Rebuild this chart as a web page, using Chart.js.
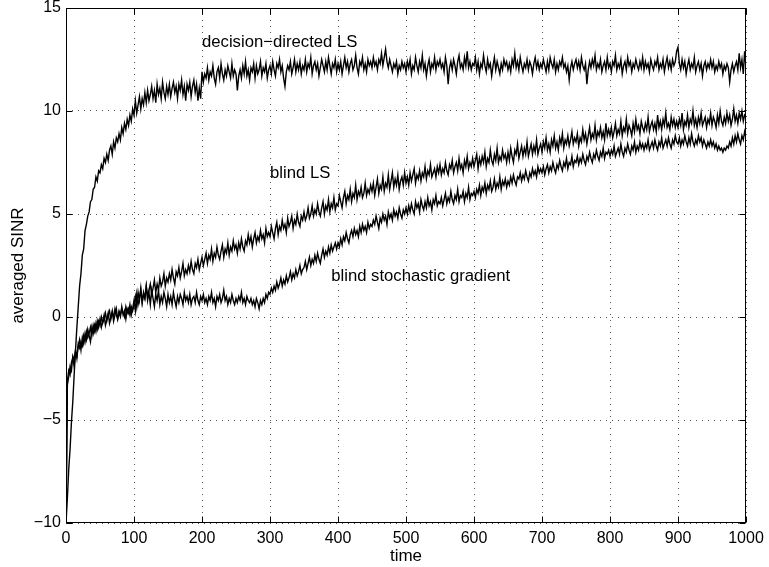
<!DOCTYPE html>
<html>
<head>
<meta charset="utf-8">
<script src="https://cdn.jsdelivr.net/npm/chart.js@4"></script>
<style>
  body { margin: 0; background: #fff; }
  canvas { display: block; }
</style>
</head>
<body>
<canvas id="canvas" width="769" height="567"></canvas>
<script>
// one sample every 2 time units, 0..1000 (rows of 25 = 50 time units)
const step = 2;

const ddLS = [
  -10, -8.8, -7.4, -6.4, -5.1, -4.1, -2.8, -1.6, -0.5, 0.5, 1.5, 2.1, 3.0, 3.3, 4.2, 4.5, 4.9, 5.1, 5.6, 5.7, 6.2, 6.3, 6.8, 6.6, 7.1,
  7.0, 7.4, 7.2, 7.7, 7.5, 7.9, 7.6, 8.1, 8.3, 7.9, 8.5, 8.2, 8.7, 8.5, 8.9, 8.6, 9.2, 8.9, 9.4, 9.1, 9.6, 9.3, 9.8, 9.5, 10.1,
  9.8, 10.5, 9.9, 10.3, 10.7, 10.1, 10.6, 10.3, 10.9, 10.4, 11.0, 10.5, 10.8, 11.2, 10.6, 11.0, 10.4, 11.3, 10.8, 11.1, 10.6, 11.4, 10.9, 10.6, 11.2,
  10.8, 11.3, 10.7, 11.1, 11.4, 10.9, 11.2, 10.6, 11.3, 11.0, 11.5, 10.8, 11.2, 10.5, 11.3, 11.0, 11.4, 10.7, 11.2, 11.5, 10.9, 11.3, 10.5, 11.1, 10.6,
  11.9, 11.4, 11.8, 11.6, 12.1, 11.5, 11.9, 11.7, 12.2, 11.6, 11.3, 11.9, 12.1, 11.6, 12.3, 11.8, 11.5, 12.0, 11.7, 12.2, 11.9, 11.6, 12.3, 11.7, 12.0,
  11.8, 11.0, 11.7, 12.0, 11.6, 12.2, 11.8, 12.4, 11.7, 12.0, 11.5, 12.1, 11.9, 12.3, 11.6, 12.2, 11.8, 12.0, 12.4, 11.7, 12.1, 11.9, 12.3, 11.6, 12.0,
  12.2, 11.8, 12.4, 12.0, 11.7, 12.3, 12.1, 12.5, 11.9, 12.2, 11.6, 11.2, 11.9, 12.2, 12.0, 12.4, 11.8, 12.1, 12.5, 11.9, 12.3, 12.0, 12.4, 11.8, 12.2,
  12.0, 12.5, 11.9, 12.3, 12.1, 12.6, 11.8, 12.2, 12.4, 12.0, 12.3, 11.7, 12.1, 12.5, 12.2, 11.9, 12.4, 12.0, 12.6, 12.2, 11.8, 12.3, 12.1, 12.5, 11.9,
  12.3, 12.0, 12.4, 11.8, 12.2, 12.6, 12.1, 12.4, 11.9, 12.3, 12.5, 12.0, 12.2, 12.7, 12.1, 11.8, 12.4, 12.2, 12.6, 12.0, 12.3, 11.9, 12.5, 12.2, 12.4,
  12.1, 12.6, 12.2, 12.4, 12.0, 12.5, 12.3, 12.8, 12.2, 12.6, 13.0, 12.4, 12.1, 12.5, 12.2, 11.9, 12.3, 12.1, 12.4, 11.8, 12.2, 12.0, 12.4, 12.1, 12.3,
  11.9, 12.4, 12.1, 12.5, 11.8, 12.2, 12.0, 12.6, 12.2, 11.9, 12.4, 12.1, 12.7, 12.0, 12.3, 11.7, 12.2, 12.5, 11.9, 12.3, 12.1, 12.6, 12.0, 12.4, 12.2,
  12.5, 12.1, 12.3, 11.9, 12.6, 12.2, 11.3, 12.1, 12.4, 12.0, 12.5, 12.2, 11.8, 12.4, 12.7, 12.1, 12.3, 12.0, 12.6, 12.2, 12.9, 12.1, 12.4, 12.0, 12.3,
  12.2, 12.6, 12.0, 12.4, 11.8, 12.3, 12.1, 12.7, 12.2, 11.9, 12.5, 12.1, 12.3, 11.7, 12.2, 12.6, 12.0, 12.4, 12.1, 11.8, 12.3, 12.0, 12.5, 12.2, 12.4,
  12.0, 12.3, 11.9, 12.5, 12.2, 12.8, 12.1, 12.4, 12.0, 12.6, 12.2, 11.9, 12.3, 12.1, 12.5, 12.0, 12.4, 12.2, 11.8, 12.3, 12.6, 12.1, 12.4, 12.0, 12.3,
  12.1, 12.5, 12.2, 11.9, 12.4, 12.0, 12.6, 12.3, 12.1, 12.5, 11.9, 12.3, 12.0, 12.4, 12.2, 12.6, 12.1, 12.3, 11.9, 12.2, 11.5, 12.1, 12.4, 12.0, 12.3,
  12.5, 12.1, 12.4, 12.0, 12.6, 12.2, 12.0, 12.3, 11.3, 12.0, 12.4, 12.1, 12.5, 12.2, 12.7, 12.0, 12.3, 12.1, 12.5, 11.9, 12.2, 12.4, 12.0, 12.6, 12.1,
  12.3, 11.9, 12.4, 12.2, 12.7, 12.0, 12.3, 12.1, 12.5, 11.8, 12.2, 12.4, 12.0, 12.6, 12.2, 12.4, 11.9, 12.3, 12.1, 12.5, 12.2, 12.0, 12.4, 12.1, 12.6,
  12.0, 12.4, 12.1, 12.3, 11.9, 12.5, 12.2, 12.0, 12.4, 12.2, 12.6, 12.0, 12.3, 12.1, 12.5, 11.9, 12.3, 12.6, 12.1, 12.4, 12.0, 12.5, 12.2, 12.4, 12.9,
  13.1, 12.3, 12.0, 12.5, 12.1, 12.4, 11.8, 12.2, 12.5, 12.0, 12.3, 12.1, 12.6, 11.9, 12.2, 12.4, 12.0, 12.3, 11.7, 12.2, 12.4, 12.0, 12.3, 12.1, 12.5,
  12.1, 12.4, 11.9, 12.2, 12.0, 12.4, 12.1, 12.3, 11.8, 12.2, 12.0, 12.3, 12.1, 11.4, 12.0, 12.3, 11.9, 12.2, 12.4, 12.0, 12.8, 12.1, 12.5, 11.8, 12.9,
  12.1
];

const blindLS = [
  -10, -3.1, -2.6, -2.8, -2.2, -2.0, -2.4, -1.7, -1.9, -1.4, -1.1, -1.6, -1.0, -1.3, -0.8, -1.1, -0.6, -0.9, -1.2, -0.5, -0.8, -0.4, -0.7, -0.2, -0.5,
  -0.1, -0.5, -0.2, 0.1, -0.4, -0.1, 0.2, -0.3, 0.0, 0.3, -0.2, 0.1, 0.4, -0.1, 0.2, 0.0, 0.5, 0.1, 0.3, -0.1, 0.4, 0.2, 0.6, 0.1, 0.4,
  0.8, 0.3, 1.1, 0.6, 0.9, 1.3, 0.7, 1.2, 0.9, 1.5, 1.0, 1.3, 1.6, 1.1, 1.4, 1.8, 1.2, 1.6, 1.3, 1.9, 1.5, 1.7, 2.1, 1.5, 1.9,
  1.7, 2.1, 1.8, 2.3, 1.9, 1.6, 2.2, 2.0, 2.4, 1.9, 2.2, 2.6, 2.0, 2.3, 2.1, 2.5, 2.2, 2.7, 2.3, 2.1, 2.6, 2.4, 2.8, 2.3, 2.6,
  2.9, 2.5, 2.8, 3.1, 2.6, 3.0, 2.8, 3.3, 2.7, 3.1, 2.9, 3.4, 3.0, 2.8, 3.2, 3.5, 2.9, 3.3, 3.1, 3.6, 3.0, 3.4, 3.2, 3.7, 3.3,
  3.5, 3.1, 3.6, 3.3, 3.8, 3.4, 3.2, 3.7, 3.5, 4.0, 3.6, 3.9, 3.4, 3.8, 4.1, 3.6, 3.9, 3.7, 4.2, 3.8, 4.0, 3.6, 4.3, 3.9, 4.1,
  3.9, 4.4, 4.1, 3.8, 4.3, 4.6, 4.0, 4.4, 4.2, 4.7, 4.3, 4.5, 4.1, 4.8, 4.4, 4.6, 4.9, 4.3, 4.7, 4.5, 5.0, 4.6, 4.4, 4.9, 4.7,
  5.1, 4.7, 4.9, 5.3, 4.8, 5.0, 5.4, 4.9, 5.2, 5.0, 5.5, 5.1, 4.9, 5.3, 5.6, 5.0, 5.4, 5.2, 5.7, 5.1, 5.5, 5.3, 5.8, 5.2, 5.5,
  5.4, 5.9, 5.6, 5.3, 5.8, 6.1, 5.5, 5.9, 5.7, 6.2, 5.6, 6.0, 5.8, 6.4, 5.7, 6.1, 5.9, 6.3, 5.8, 6.0, 6.5, 5.9, 6.2, 6.0, 6.4,
  6.1, 6.5, 5.9, 6.3, 6.7, 6.0, 6.4, 6.2, 6.8, 6.1, 6.5, 6.3, 6.9, 6.2, 6.6, 7.0, 6.3, 6.7, 6.4, 6.9, 6.2, 6.6, 6.8, 6.4, 7.0,
  6.5, 6.8, 6.4, 7.0, 6.6, 6.9, 7.2, 6.5, 6.9, 6.7, 7.1, 6.6, 7.0, 6.8, 7.3, 6.7, 7.1, 6.9, 7.4, 6.8, 7.0, 7.2, 6.8, 7.3, 7.0,
  7.4, 6.9, 7.2, 7.0, 7.5, 7.1, 6.9, 7.4, 7.2, 7.6, 7.0, 7.3, 7.5, 7.1, 7.7, 7.2, 7.4, 7.0, 7.6, 7.3, 7.8, 7.2, 7.5, 7.3, 7.7,
  7.3, 7.6, 7.9, 7.2, 7.7, 7.4, 7.8, 7.5, 8.0, 7.3, 7.7, 7.5, 8.1, 7.6, 7.4, 7.9, 7.6, 8.2, 7.5, 7.8, 7.6, 8.1, 7.7, 7.9, 7.5,
  8.0, 7.6, 8.2, 7.8, 7.5, 8.1, 7.9, 8.4, 7.7, 8.0, 8.3, 7.8, 8.2, 7.9, 8.5, 7.8, 8.1, 8.4, 7.9, 8.3, 8.0, 8.6, 7.9, 8.2, 8.4,
  8.0, 8.5, 8.2, 8.7, 8.1, 8.4, 8.0, 8.6, 8.3, 8.8, 8.2, 8.5, 8.1, 8.7, 8.4, 8.9, 8.2, 8.6, 8.4, 8.8, 8.3, 8.6, 9.0, 8.4, 8.7,
  8.5, 8.9, 8.3, 8.7, 8.5, 9.1, 8.6, 8.9, 8.4, 8.8, 9.2, 8.6, 8.9, 8.7, 9.3, 8.6, 9.0, 8.8, 9.2, 8.7, 9.0, 8.6, 9.4, 8.8, 9.1,
  8.8, 9.2, 8.7, 9.0, 9.4, 8.8, 9.1, 8.9, 9.5, 8.8, 9.2, 9.0, 9.6, 8.9, 9.3, 9.1, 8.8, 9.4, 9.0, 9.6, 9.1, 9.3, 8.9, 9.5, 9.2,
  9.0, 9.4, 9.1, 9.7, 9.0, 9.3, 9.5, 9.1, 9.4, 9.0, 9.8, 9.2, 9.5, 9.1, 9.6, 9.3, 9.9, 9.2, 9.4, 9.1, 9.7, 9.3, 9.6, 9.2, 9.5,
  9.2, 9.6, 9.3, 9.9, 9.1, 9.5, 9.3, 9.8, 9.2, 9.6, 9.4, 10.0, 9.3, 9.6, 9.2, 9.7, 9.4, 9.9, 9.3, 9.5, 9.7, 9.2, 9.6, 9.4, 9.9,
  9.3, 9.7, 9.5, 9.2, 9.8, 9.4, 10.0, 9.5, 9.3, 9.7, 9.4, 9.9, 9.5, 9.8, 9.3, 9.6, 10.1, 9.5, 9.8, 9.4, 9.9, 9.6, 10.0, 9.5, 9.8,
  9.7
];

const blindSG = [
  -10, -3.3, -2.9, -2.4, -2.6, -1.9, -2.1, -1.6, -2.0, -1.3, -1.5, -1.2, -1.4, -0.9, -1.2, -0.7, -1.0, -0.8, -0.5, -0.9, -0.4, -0.7, -0.3, -0.6, -0.2,
  -0.4, 0.0, -0.3, -0.1, 0.2, -0.2, 0.1, 0.3, -0.1, 0.2, 0.0, 0.4, 0.1, -0.1, 0.3, 0.1, 0.4, 0.2, 0.0, 0.5, 0.2, 0.4, 0.1, 0.5, 0.3,
  0.6, 1.0, 0.5, 1.2, 0.8, 1.4, 0.7, 1.1, 0.9, 1.5, 0.8, 1.2, 0.6, 1.3, 0.9, 0.5, 1.1, 0.8, 1.3, 0.6, 1.0, 0.7, 1.2, 0.9, 0.5,
  1.1, 0.7, 1.0, 0.6, 1.2, 0.8, 0.5, 1.0, 0.7, 1.1, 0.9, 0.6, 1.2, 0.8, 1.0, 0.7, 1.1, 0.6, 0.9, 1.0, 0.7, 1.2, 0.8, 0.6, 1.0,
  0.8, 1.1, 0.7, 0.9, 0.6, 1.0, 0.8, 1.2, 0.7, 0.9, 0.5, 1.0, 0.8, 1.1, 0.7, 0.9, 1.3, 0.8, 1.0, 0.6, 0.9, 0.7, 1.1, 0.8, 0.6,
  0.9, 0.7, 1.0, 0.8, 1.2, 0.7, 0.9, 0.6, 1.0, 0.8, 0.7, 0.9, 0.6, 0.8, 0.5, 0.9, 0.7, 0.4, 0.8, 0.6, 0.9, 0.7, 1.1, 0.9, 1.2,
  1.1, 1.4, 1.2, 1.5, 1.3, 1.7, 1.4, 1.6, 1.9, 1.5, 1.8, 1.6, 2.0, 1.7, 1.9, 2.2, 1.8, 2.1, 1.9, 2.3, 2.0, 2.2, 2.5, 2.1, 2.3,
  2.4, 2.7, 2.3, 2.6, 2.9, 2.5, 2.8, 2.6, 3.0, 2.7, 3.1, 2.8, 2.6, 3.0, 3.3, 2.9, 3.2, 3.0, 3.4, 3.1, 3.5, 3.2, 3.4, 3.6, 3.3,
  3.6, 3.4, 3.8, 3.5, 3.9, 3.7, 4.1, 3.8, 3.6, 4.0, 4.2, 3.9, 4.3, 4.0, 4.2, 3.9, 4.4, 4.1, 4.5, 4.2, 4.4, 4.1, 4.6, 4.3, 4.5,
  4.4, 4.7, 4.5, 4.9, 4.6, 4.3, 4.8, 4.6, 5.0, 4.7, 4.9, 4.5, 5.1, 4.8, 5.0, 4.7, 5.2, 4.9, 5.1, 4.8, 5.3, 5.0, 4.8, 5.2, 5.0,
  5.3, 5.0, 5.4, 5.1, 5.5, 5.2, 5.0, 5.6, 5.3, 5.5, 5.1, 5.7, 5.4, 5.2, 5.6, 5.3, 5.8, 5.4, 5.6, 5.2, 5.7, 5.5, 5.9, 5.4, 5.6,
  5.5, 5.8, 5.4, 5.7, 6.0, 5.5, 5.8, 5.6, 6.1, 5.7, 5.5, 5.9, 5.7, 6.2, 5.6, 5.9, 5.8, 6.1, 5.6, 6.0, 5.8, 6.3, 5.7, 6.0, 5.9,
  6.1, 5.8, 6.2, 6.0, 6.4, 5.9, 6.3, 6.1, 6.5, 6.0, 6.4, 6.2, 6.6, 6.1, 6.3, 6.7, 6.2, 6.5, 6.3, 6.8, 6.2, 6.6, 6.4, 6.7, 6.3,
  6.6, 6.4, 6.8, 6.5, 6.9, 6.6, 6.4, 6.8, 6.7, 7.0, 6.6, 6.9, 6.7, 7.1, 6.8, 6.6, 7.0, 6.8, 7.2, 6.9, 7.1, 6.8, 7.3, 7.0, 7.2,
  7.0, 7.3, 6.9, 7.2, 7.4, 7.0, 7.3, 7.1, 7.5, 7.2, 7.0, 7.4, 7.2, 7.6, 7.3, 7.1, 7.5, 7.3, 7.7, 7.2, 7.5, 7.4, 7.8, 7.3, 7.6,
  7.5, 7.8, 7.4, 7.7, 7.5, 7.9, 7.6, 7.4, 7.8, 7.6, 8.0, 7.7, 7.5, 7.9, 7.7, 8.1, 7.8, 7.6, 8.0, 7.8, 8.2, 7.7, 8.0, 7.9, 8.1,
  7.8, 8.1, 7.9, 8.3, 7.8, 8.0, 8.2, 7.9, 8.4, 8.0, 7.8, 8.2, 8.0, 8.4, 8.1, 7.9, 8.3, 8.1, 8.5, 8.0, 8.3, 8.1, 8.5, 8.2, 8.4,
  8.1, 8.4, 8.2, 8.6, 8.1, 8.3, 8.5, 8.2, 8.6, 8.3, 8.1, 8.5, 8.3, 8.7, 8.2, 8.4, 8.6, 8.3, 8.7, 8.4, 8.2, 8.6, 8.4, 8.8, 8.5,
  8.4, 8.7, 8.3, 8.6, 8.4, 8.8, 8.5, 8.3, 8.7, 8.4, 8.9, 8.5, 8.3, 8.6, 8.4, 8.8, 8.5, 8.7, 8.3, 8.6, 8.4, 8.2, 8.5, 8.3, 8.6,
  8.3, 8.5, 8.2, 8.4, 8.1, 8.3, 8.1, 8.2, 8.0, 8.2, 8.1, 8.3, 8.2, 8.5, 8.3, 8.7, 8.4, 8.8, 8.5, 8.9, 8.6, 8.4, 8.8, 8.6, 9.0,
  8.7
];

const xTicks = [0, 100, 200, 300, 400, 500, 600, 700, 800, 900, 1000];
const yTicks = [-10, -5, 0, 5, 10, 15];

// text labels written inside the plot: [time, SINR, text]
const notes = [
  [200, 13.35, 'decision\u2212directed LS'],
  [300, 6.95, 'blind LS'],
  [390, 1.95, 'blind stochastic gradient']
];

const FONT = 'Helvetica, "Liberation Sans", Arial, sans-serif';

function pts(arr) {
  return arr.map((v, i) => ({ x: i * step, y: v }));
}

function lineSet(label, arr) {
  return {
    label: label,
    data: pts(arr),
    borderColor: '#000',
    borderWidth: 1.4,
    pointRadius: 0,
    tension: 0,
    fill: false
  };
}

// matlab style box with inward ticks, plus the curve names
const boxPlugin = {
  id: 'box',
  afterDatasetsDraw(chart) {
    const { ctx, chartArea: a, scales } = chart;
    const L = Math.round(a.left) + 0.5, R = Math.round(a.right) - 0.5;
    const T = Math.round(a.top) + 0.5, B = Math.round(a.bottom) - 0.5;
    ctx.save();
    ctx.strokeStyle = '#000';
    ctx.lineWidth = 1;
    ctx.setLineDash([]);
    ctx.strokeRect(L, T, R - L, B - T);
    ctx.beginPath();
    const len = 6;
    xTicks.forEach(v => {
      const px = Math.round(scales.x.getPixelForValue(v)) + 0.5;
      ctx.moveTo(px, B); ctx.lineTo(px, B - len);
      ctx.moveTo(px, T); ctx.lineTo(px, T + len);
    });
    yTicks.forEach(v => {
      const py = Math.round(scales.y.getPixelForValue(v)) + 0.5;
      ctx.moveTo(L, py); ctx.lineTo(L + len, py);
      ctx.moveTo(R, py); ctx.lineTo(R - len, py);
    });
    ctx.stroke();
    ctx.restore();
  },
  afterDraw(chart) {
    const { ctx, scales } = chart;
    ctx.save();
    ctx.fillStyle = '#000';
    ctx.font = '16.7px ' + FONT;
    ctx.textAlign = 'left';
    ctx.textBaseline = 'middle';
    notes.forEach(n => {
      ctx.fillText(n[2], scales.x.getPixelForValue(n[0]), scales.y.getPixelForValue(n[1]));
    });
    ctx.restore();
  }
};

const ctx = document.getElementById('canvas').getContext('2d');

new Chart(ctx, {
  type: 'line',
  data: {
    datasets: [
      lineSet('decision-directed LS', ddLS),
      lineSet('blind LS', blindLS),
      lineSet('blind stochastic gradient', blindSG)
    ]
  },
  options: {
    responsive: false,
    animation: false,
    events: [],
    layout: { padding: { left: 0, right: 23, top: 8, bottom: 0 } },
    plugins: {
      legend: { display: false },
      tooltip: { enabled: false }
    },
    scales: {
      x: {
        type: 'linear',
        min: 0,
        max: 1000,
        afterBuildTicks(scale) { scale.ticks = xTicks.map(v => ({ value: v })); },
        afterFit(scale) { scale.height = 44; },
        ticks: {
          color: '#000',
          padding: 0,
          maxRotation: 0,
          callback: v => String(v),
          font: { family: FONT, size: 16, lineHeight: 1.94 }
        },
        grid: { color: '#555', lineWidth: 1, drawTicks: false },
        border: { display: false, dash: [1, 5] },
        title: {
          display: true,
          text: 'time',
          color: '#000',
          padding: { top: 0, bottom: 0 },
          font: { family: FONT, size: 17 }
        }
      },
      y: {
        type: 'linear',
        min: -10,
        max: 15,
        afterBuildTicks(scale) { scale.ticks = yTicks.map(v => ({ value: v })); },
        afterFit(scale) { scale.width = 66; },
        ticks: {
          color: '#000',
          padding: 5,
          font: { family: FONT, size: 16, lineHeight: 0.2 },
          callback: v => String(v).replace('-', '\u2212')
        },
        grid: { color: '#555', lineWidth: 1, drawTicks: false },
        border: { display: false, dash: [1, 5] },
        title: {
          display: true,
          text: 'averaged SINR',
          color: '#000',
          padding: { top: 8, bottom: 0 },
          font: { family: FONT, size: 17 }
        }
      }
    }
  },
  plugins: [boxPlugin]
});
</script>
</body>
</html>
